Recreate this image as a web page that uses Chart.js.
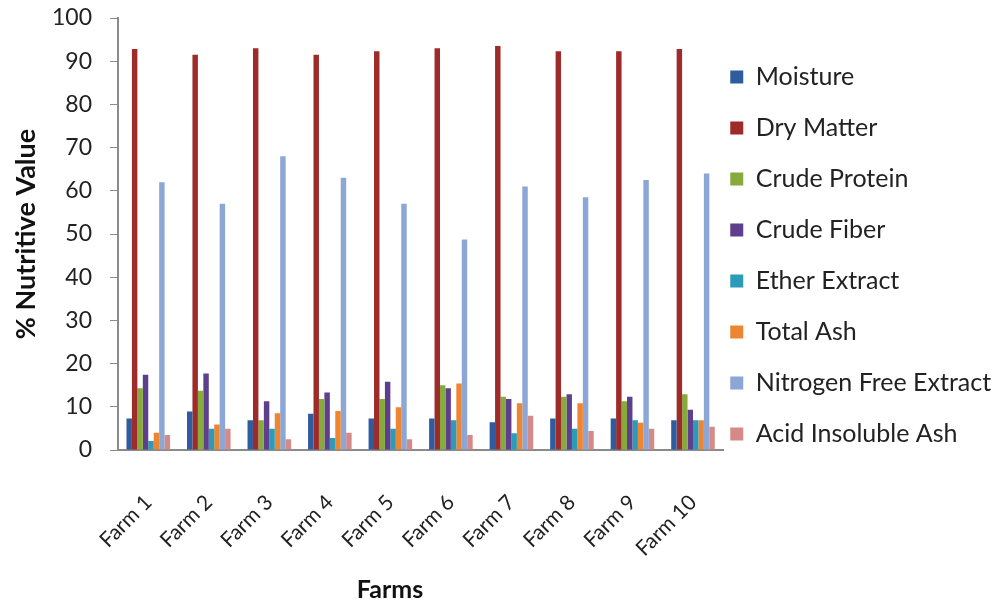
<!DOCTYPE html>
<html>
<head>
<meta charset="utf-8">
<script src="https://cdn.jsdelivr.net/npm/chart.js@4/dist/chart.umd.min.js"></script>
<style>
  html, body { margin: 0; padding: 0; background: #fff; }
  #wrap { width: 1003px; height: 607px; }
</style>
</head>
<body>
<div id="wrap"><canvas id="nutriChart"></canvas></div>
<script>
// Farms on the x axis
const farms = ["Farm 1", "Farm 2", "Farm 3", "Farm 4", "Farm 5", "Farm 6", "Farm 7", "Farm 8", "Farm 9", "Farm 10"];

// % nutritive value per component
const moisture     = [7.3, 8.9, 6.9, 8.4, 7.3, 7.3, 6.4, 7.3, 7.3, 6.9];
const dryMatter    = [92.8, 91.5, 93.0, 91.5, 92.3, 93.0, 93.5, 92.3, 92.3, 92.8];
const crudeProtein = [14.3, 13.7, 6.9, 11.8, 11.8, 15.0, 12.3, 12.3, 11.3, 12.9];
const crudeFiber   = [17.4, 17.7, 11.3, 13.3, 15.8, 14.3, 11.8, 12.9, 12.3, 9.3];
const etherExtract = [2.1, 4.9, 4.9, 2.8, 4.9, 6.9, 3.9, 4.9, 6.9, 6.9];
const totalAsh     = [4.0, 5.9, 8.5, 9.0, 9.9, 15.4, 10.8, 10.8, 6.3, 6.9];
const nfe          = [62, 57, 68, 63, 57, 48.7, 61, 58.5, 62.5, 64];
const acidAsh      = [3.5, 4.9, 2.5, 4.0, 2.5, 3.5, 7.9, 4.4, 4.9, 5.4];

const yTicks = [0, 10, 20, 30, 40, 50, 60, 70, 80, 90, 100];

const fontFam = "Lato, 'Open Sans', sans-serif";

const ctx = document.getElementById("nutriChart").getContext("2d");

function series(label, data, color) {
  return { label, data, backgroundColor: color, borderWidth: 0 };
}

// put the legend where the original has it: just right of the plot, and higher up
const legendShift = {
  id: "legendShift",
  afterLayout(chart) {
    const lg = chart.legend;
    if (!lg) return;
    lg.left = chart.chartArea.right - 19;
    lg.right = lg.left + 300;
    lg.top = 0;
    lg.bottom = 511;
  }
};

// x axis title, drawn a little left of the plot centre like the original
const xTitle = {
  id: "xTitle",
  afterDraw(chart) {
    const c = chart.ctx;
    c.save();
    c.font = "bold 25px " + fontFam;
    c.fillStyle = "#111";
    c.textAlign = "center";
    c.textBaseline = "middle";
    c.fillText("Farms", 390, 590);
    c.restore();
  }
};

const nutriChart = new Chart(ctx, {
  type: "bar",
  data: {
    labels: farms,
    datasets: [
      series("Moisture", moisture, "#2f5c9e"),
      series("Dry Matter", dryMatter, "#9e2a2a"),
      series("Crude Protein", crudeProtein, "#86aa3c"),
      series("Crude Fiber", crudeFiber, "#5e3f8d"),
      series("Ether Extract", etherExtract, "#2b9bb8"),
      series("Total Ash", totalAsh, "#ee8530"),
      series("Nitrogen Free Extract", nfe, "#8ca6d6"),
      series("Acid Insoluble Ash", acidAsh, "#d68a88")
    ]
  },
  plugins: [legendShift, xTitle],
  options: {
    responsive: true,
    maintainAspectRatio: false,
    animation: false,
    layout: { padding: { top: 8, right: 42, left: 10, bottom: 50 } },
    datasets: {
      bar: { categoryPercentage: 0.72, barPercentage: 1.0 }
    },
    plugins: {
      legend: {
        position: "right",
        labels: {
          boxWidth: 13,
          boxHeight: 13,
          padding: 26,
          color: "#222",
          font: { family: fontFam, size: 25 }
        }
      },
      tooltip: { enabled: false }
    },
    scales: {
      x: {
        afterFit: scale => {
          scale.height = 107;
          scale.paddingLeft = 0;
        },
        grid: { display: false, drawTicks: false },
        border: { color: "#8a8a8a", width: 2 },
        ticks: {
          color: "#222",
          font: { family: fontFam, size: 21 },
          maxRotation: 45,
          minRotation: 45,
          padding: 40
        }
      },
      y: {
        min: 0,
        max: 100,
        afterBuildTicks: axis => { axis.ticks = yTicks.map(v => ({ value: v })); },
        afterFit: scale => {
          scale.paddingTop = 18;
          scale.width = 108;
        },
        grid: { drawOnChartArea: false, drawTicks: true, tickLength: 8, color: "#8a8a8a" },
        border: { color: "#8a8a8a", width: 2 },
        ticks: {
          color: "#222",
          font: { family: fontFam, size: 23 },
          padding: 18
        },
        title: {
          display: true,
          text: "% Nutritive Value",
          color: "#111",
          font: { family: fontFam, size: 27, weight: "bold" },
          padding: { top: 0, bottom: 12 }
        }
      }
    }
  }
});
</script>
</body>
</html>
